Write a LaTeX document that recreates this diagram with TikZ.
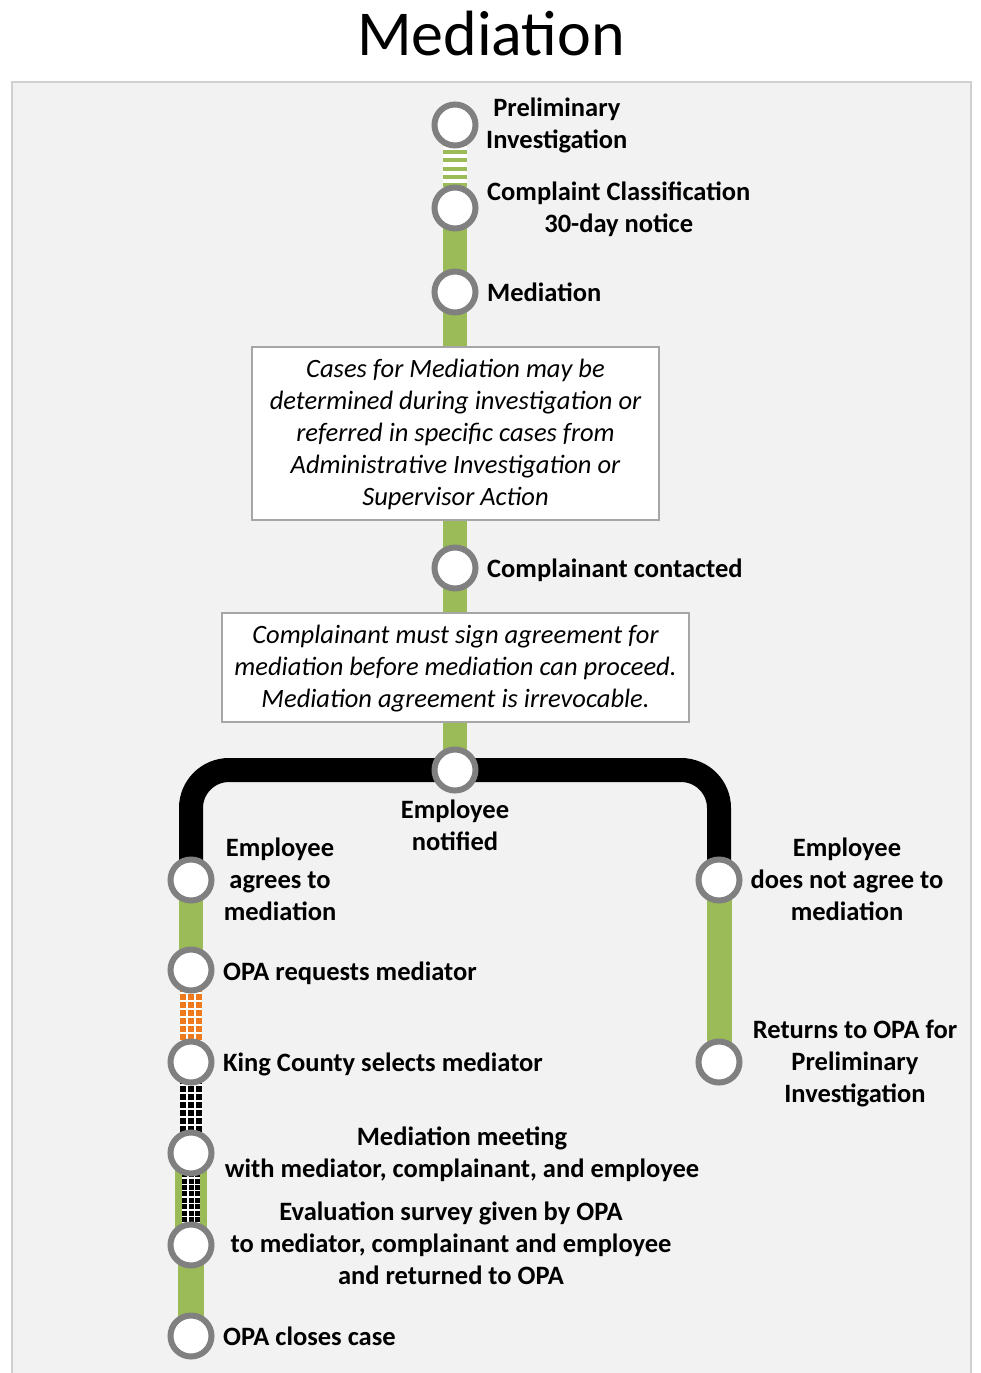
\documentclass[tikz,border=0pt]{standalone}
\usepackage{fontspec}
\setmainfont{Carlito}
\newcommand{\topline}{\rule{0pt}{25.6pt}}
\begin{document}
\pgfdeclarelayer{panel}
\pgfdeclarelayer{track}
\pgfsetlayers{panel,track,main}
\definecolor{trackgreen}{HTML}{9BBB59}
\definecolor{trackorange}{HTML}{EE7A1E}
\definecolor{ringgrey}{HTML}{808080}
\definecolor{panelfill}{HTML}{F2F2F2}
\definecolor{paneledge}{HTML}{D0D0D0}
\definecolor{boxedge}{HTML}{A6A6A6}
\begin{tikzpicture}[x=1pt,y=-1pt,
  stop/.style={circle, draw=ringgrey, line width=6pt, fill=white,
    minimum size=41pt, inner sep=0pt},
  lbl/.style={font=\fontsize{26.5}{32}\selectfont\bfseries, inner sep=0pt, align=center},
  note/.style={draw=boxedge, line width=1.2pt, fill=white,
    font=\fontsize{26.5}{32}\selectfont\itshape, align=center, inner sep=0pt},
  greentrack/.style={draw=trackgreen, line width=24pt},
  blacktrack/.style={draw=black, line width=24pt},
  gridcol/.style={line width=6pt, dash pattern=on 6pt off 2pt},
  finecol/.style={draw=black, line width=5pt, dash pattern=on 5pt off 1.4pt},
]
\useasboundingbox (0,0) rectangle (980,1373);

% page panel
\begin{pgfonlayer}{panel}
  \fill[panelfill] (12,82) rectangle (971,1380);
  \draw[paneledge, line width=1.5pt] (12,1380) -- (12,82) -- (971,82) -- (971,1380);
\end{pgfonlayer}

\node[font=\fontsize{64}{76}\selectfont, anchor=base] (title) at (491,55) {Mediation};

% stations
\node[stop] (pi)  at (455,125)  {};
\node[stop] (cc)  at (455,208)  {};
\node[stop] (md)  at (455,292)  {};
\node[stop] (co)  at (455,568)  {};
\node[stop] (en)  at (455,770)  {};
\node[stop] (ea)  at (191,880)  {};
\node[stop] (ops) at (191,970)  {};
\node[stop] (kcs) at (191,1062) {};
\node[stop] (mm)  at (191,1153) {};
\node[stop] (ev)  at (191,1245) {};
\node[stop] (oc)  at (191,1336) {};
\node[stop] (ed)  at (719,880)  {};
\node[stop] (rt)  at (719,1062) {};

% notes on the trunk
\node[note, minimum width=407pt, minimum height=173pt] (nb1) at (455.5,433.5)
  {\topline Cases for Mediation may be\\determined during investigation or\\referred in specific cases from\\Administrative Investigation or\\Supervisor Action\strut};
\node[note, minimum width=467pt, minimum height=109pt] (nb2) at (455.5,667.5)
  {\topline Complainant must sign agreement for\\mediation before mediation can proceed.\\Mediation agreement is irrevocable.\strut};

% station labels
\node[lbl, anchor=west] (pil) at (486,126) {\strut Preliminary\\Investigation\strut};
\node[lbl, anchor=west] (ccl) at (487,210) {\strut Complaint Classification\\30-day notice\strut};
\node[lbl, anchor=base west] (mdl) at (487,301) {Mediation};
\node[lbl, anchor=base west] (col) at (487,577) {Complainant contacted};
\node[lbl] (enl) at (455,828) {\strut Employee\\notified\strut};
\node[lbl] (eal) at (280,882) {\strut Employee\\agrees to\\mediation\strut};
\node[lbl] (edl) at (847,882) {\strut Employee\\does not agree to\\mediation\strut};
\node[lbl, anchor=base west] (opl) at (223,980) {OPA requests mediator};
\node[lbl, anchor=base west] (kcl) at (223,1071) {King County selects mediator};
\node[lbl] (rtl) at (855,1064) {\strut Returns to OPA for\\Preliminary\\Investigation\strut};
\node[lbl] (mml) at (462,1155) {\strut Mediation meeting\\with mediator, complainant, and employee\strut};
\node[lbl] (evl) at (451,1246.5) {\strut Evaluation survey given by OPA\\to mediator, complainant and employee\\and returned to OPA\strut};
\node[lbl, anchor=base west] (ocl) at (223,1345) {OPA closes case};

% tracks
\begin{pgfonlayer}{track}
  % striped start
  \draw[white, line width=24pt] (pi.center) -- (cc.center);
  \draw[trackgreen, line width=24pt, dash pattern=on 4pt off 4.33pt] (pi.center) -- (cc.center);
  % main trunk
  \draw[greentrack] (cc.center) -- (en.center);
  % fork
  \draw[blacktrack, rounded corners=38pt] (ea.center) |- (en.center) -| (ed.center);
  % declined branch
  \draw[draw=trackgreen, line width=25pt] (ed.center) -- (rt.center);
  % agreed branch
  \draw[greentrack] (ea.center) -- (ops.center);
  \draw[white, line width=22pt] (ops.center) -- (kcs.center);
  \foreach \dx in {-8,0,8}
    \draw[gridcol, draw=trackorange] ([xshift=\dx pt]ops.center) -- ([xshift=\dx pt]kcs.center);
  \draw[white, line width=22pt] (kcs.center) -- (mm.center);
  \foreach \dx in {-8,0,8}
    \draw[gridcol, draw=black] ([xshift=\dx pt]kcs.center) -- ([xshift=\dx pt]mm.center);
  \draw[draw=trackgreen, line width=32pt] (mm.center) -- (ev.center);
  \draw[white, line width=17.5pt] (mm.center) -- (ev.center);
  \foreach \dx in {-6.2,0,6.2}
    \draw[finecol] ([xshift=\dx pt]mm.center) -- ([xshift=\dx pt]ev.center);
  \draw[draw=trackgreen, line width=26pt] (ev.center) -- (oc.center);
\end{pgfonlayer}
\end{tikzpicture}
\end{document}
